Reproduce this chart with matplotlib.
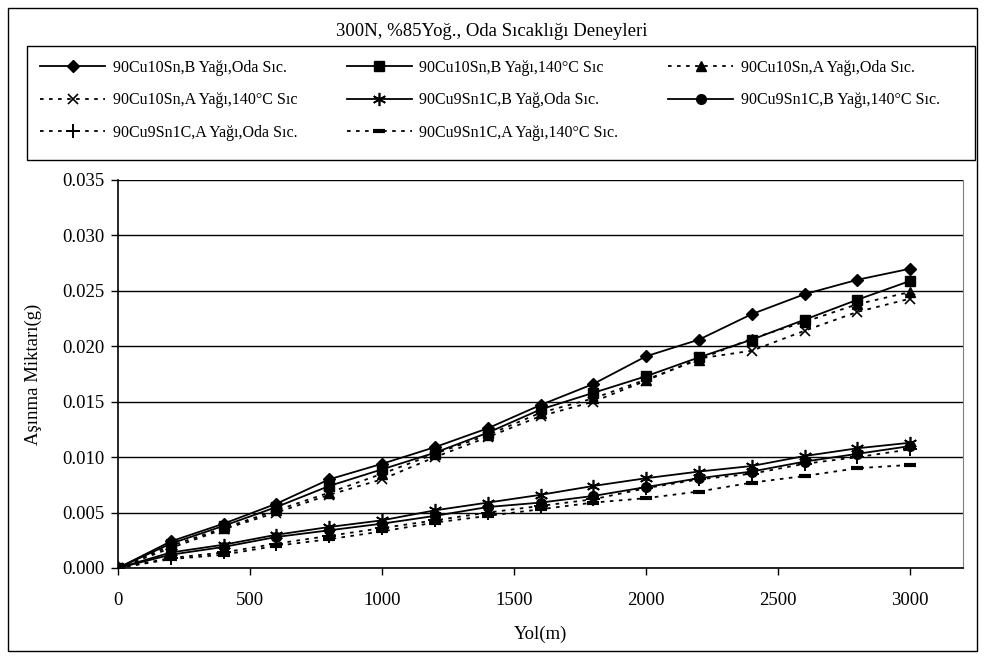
import matplotlib
matplotlib.use("Agg")
import matplotlib.pyplot as plt
from matplotlib.patches import Rectangle

plt.rcParams['font.family'] = ['Liberation Serif', 'DejaVu Serif']

# Sliding distance (m)
yol = [0, 200, 400, 600, 800, 1000, 1200, 1400, 1600, 1800, 2000, 2200, 2400, 2600, 2800, 3000]

# Wear amount (g) per test condition
cu10sn_b_oda = [0, 0.0024, 0.0040, 0.0058, 0.0080, 0.0094, 0.0109, 0.0126, 0.0147, 0.0166, 0.0191, 0.0206, 0.0229, 0.0247, 0.0260, 0.0270]
cu10sn_b_140 = [0, 0.0022, 0.0038, 0.0055, 0.0074, 0.0089, 0.0104, 0.0122, 0.0143, 0.0158, 0.0173, 0.0190, 0.0206, 0.0224, 0.0242, 0.0259]
cu10sn_a_oda = [0, 0.0020, 0.0036, 0.0052, 0.0068, 0.0085, 0.0103, 0.0120, 0.0140, 0.0153, 0.0170, 0.0188, 0.0207, 0.0222, 0.0238, 0.0249]
cu10sn_a_140 = [0, 0.0018, 0.0035, 0.0050, 0.0066, 0.0080, 0.0100, 0.0118, 0.0137, 0.0150, 0.0169, 0.0189, 0.0196, 0.0214, 0.0231, 0.0243]
cu9sn1c_b_oda = [0, 0.0014, 0.0021, 0.0030, 0.0037, 0.0043, 0.0052, 0.0059, 0.0066, 0.0074, 0.0081, 0.0087, 0.0092, 0.0101, 0.0108, 0.0113]
cu9sn1c_b_140 = [0, 0.0012, 0.0019, 0.0028, 0.0034, 0.0040, 0.0047, 0.0055, 0.0059, 0.0065, 0.0073, 0.0081, 0.0087, 0.0096, 0.0103, 0.0110]
cu9sn1c_a_oda = [0, 0.0009, 0.0014, 0.0022, 0.0029, 0.0036, 0.0043, 0.0050, 0.0056, 0.0062, 0.0072, 0.0080, 0.0085, 0.0094, 0.0100, 0.0107]
cu9sn1c_a_140 = [0, 0.0008, 0.0012, 0.0020, 0.0026, 0.0033, 0.0041, 0.0047, 0.0053, 0.0059, 0.0063, 0.0069, 0.0077, 0.0083, 0.0090, 0.0093]

labels = [
    "90Cu10Sn,B Yağı,Oda Sıc.",
    "90Cu10Sn,B Yağı,140°C Sıc",
    "90Cu10Sn,A Yağı,Oda Sıc.",
    "90Cu10Sn,A Yağı,140°C Sıc",
    "90Cu9Sn1C,B Yağ,Oda Sıc.",
    "90Cu9Sn1C,B Yağı,140°C Sıc.",
    "90Cu9Sn1C,A Yağı,Oda Sıc.",
    "90Cu9Sn1C,A Yağı,140°C Sıc.",
]
series = [cu10sn_b_oda, cu10sn_b_140, cu10sn_a_oda, cu10sn_a_140,
          cu9sn1c_b_oda, cu9sn1c_b_140, cu9sn1c_a_oda, cu9sn1c_a_140]

title = "300N, %85Yoğ., Oda Sıcaklığı Deneyleri"
xticks = [0, 500, 1000, 1500, 2000, 2500, 3000]
yticks = [0.000, 0.005, 0.010, 0.015, 0.020, 0.025, 0.030, 0.035]

styles = [
    dict(marker='D', ms=6.5, ls='-'),
    dict(marker='s', ms=6.5, ls='-'),
    dict(marker='^', ms=7.5, ls=(0, (2, 3))),
    dict(marker='x', ms=7.5, ls=(0, (2, 3)), mew=1.2),
    dict(marker=(6, 2, 0), ms=9.5, ls='-', mew=1.2),
    dict(marker='o', ms=7.0, ls='-'),
    dict(marker='+', ms=9.5, ls=(0, (2, 3)), mew=1.4),
    dict(marker='_', ms=8.0, ls=(0, (2, 3)), mew=3.0),
]

W, H = 985, 659
fig = plt.figure(figsize=(W / 100, H / 100), dpi=100)
ax = fig.add_axes([118 / W, 1 - 568 / H, (963 - 118) / W, (568 - 180) / H])

handles = []
for vals, lab, st in zip(series, labels, styles):
    h, = ax.plot(yol, vals, color='black', lw=1.3, label=lab,
                 mfc='black', mec='black', **st)
    handles.append(h)

ax.set_xlim(0, 3200)
ax.set_ylim(0, 0.035)
ax.set_xticks(xticks)
ax.set_xticklabels([str(t) for t in xticks])
ax.set_yticks(yticks)
ax.set_yticklabels([f"{t:.3f}" for t in yticks])
ax.tick_params(axis='both', direction='out', length=5, width=1, labelsize=13.5, color='black')
ax.tick_params(axis='x', pad=12)
ax.tick_params(axis='y', pad=5)
ax.yaxis.grid(True, color='black', lw=1)
ax.set_axisbelow(True)
ax.spines['top'].set_visible(False)
ax.spines['right'].set_color('#808080')
ax.spines['left'].set_linewidth(1.2)
ax.spines['bottom'].set_linewidth(1.2)

ax.set_ylabel("Aşınma Miktarı(g)", fontsize=13.5, labelpad=14)
ax.set_xlabel("Yol(m)", fontsize=13.5, labelpad=12)

fig.text(492 / W, 1 - 32 / H, title, ha='center', va='center', fontsize=13.5)

# legend laid out row by row in three columns, framed separately
order = [0, 3, 6, 1, 4, 7, 2, 5]
leg = fig.legend([handles[i] for i in order], [labels[i] for i in order],
                 ncol=3, loc='upper left', bbox_to_anchor=(40 / W, 1 - 60 / H),
                 bbox_transform=fig.transFigure, fontsize=11.5, frameon=False,
                 handlelength=4.1, handletextpad=0.45, columnspacing=3.1,
                 labelspacing=1.02, borderpad=0.0, borderaxespad=0)

fig.patches.append(Rectangle((27 / W, 1 - 160 / H), (975 - 27) / W, (160 - 46) / H,
                             transform=fig.transFigure, fill=False,
                             edgecolor='black', lw=1.0))

# outer chart border
fig.patches.append(Rectangle((8 / W, 8 / H), 969 / W, 643 / H,
                             transform=fig.transFigure, fill=False,
                             edgecolor='black', lw=1.0))

fig.savefig("out.png", dpi=100)
